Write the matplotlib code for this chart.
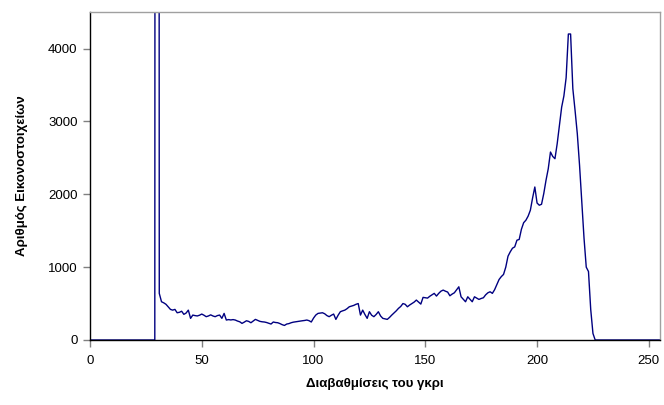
import matplotlib
matplotlib.use("Agg")
import matplotlib.pyplot as plt

plt.rcParams['font.family'] = ['Liberation Sans', 'DejaVu Sans']

grey_levels = list(range(256))

counts_0_29 = [0] * 30
counts_spike = [80000]
counts_31_100 = [640, 525, 510, 490, 456, 420, 410, 420, 374, 380,
                 395, 352, 370, 410, 297, 342, 335, 330, 340, 356,
                 340, 320, 330, 345, 330, 320, 335, 342, 297, 365,
                 274, 280, 275, 280, 274, 260, 250, 228, 245, 264,
                 255, 237, 260, 283, 270, 256, 250, 247, 240, 230,
                 219, 247, 240, 237, 225, 210, 200, 219, 225, 237,
                 245, 250, 256, 260, 264, 268, 274, 265, 247, 300]
counts_101_170 = [342, 365, 370, 374, 360, 335, 320, 340, 356, 283,
                  340, 388, 400, 410, 430, 456, 465, 475, 490, 500,
                  342, 410, 350, 297, 388, 340, 320, 350, 388, 330,
                  297, 290, 283, 310, 342, 370, 400, 434, 460, 500,
                  490, 456, 480, 500, 520, 548, 520, 493, 585, 580,
                  575, 600, 620, 640, 603, 640, 670, 685, 670, 658,
                  607, 630, 648, 690, 730, 593, 560, 525, 593, 560]
counts_171_226 = [525, 593, 575, 557, 570, 580, 620, 648, 662, 640,
                  690, 760, 830, 870, 900, 1000, 1150, 1210, 1260, 1278,
                  1370, 1380, 1520, 1610, 1644, 1700, 1781, 1950, 2100, 1880,
                  1850, 1863, 2010, 2192, 2350, 2580, 2520, 2488, 2694, 2950,
                  3196, 3350, 3600, 4200, 4200, 3450, 3150, 2831, 2400, 1900,
                  1400, 1000, 940, 420, 90, 0]
counts_227_255 = [0] * 29

counts = counts_0_29 + counts_spike + counts_31_100 + counts_101_170 + counts_171_226 + counts_227_255

x_ticks = [0, 50, 100, 150, 200, 250]
y_ticks = [0, 1000, 2000, 3000, 4000]

fig = plt.figure(figsize=(6.64, 4.05), dpi=100)
ax = fig.add_axes([0.1355, 0.1605, 0.8585, 0.8095])

ax.plot(grey_levels, counts, color='#000080', linewidth=1.0)

ax.set_xlim(0, 255)
ax.set_ylim(0, 4500)
ax.set_xticks(x_ticks)
ax.set_yticks(y_ticks)
ax.tick_params(axis='both', direction='out', length=5, width=1, color='#808080',
               labelsize=9.5, labelcolor='black')
ax.tick_params(axis='x', pad=6)
ax.tick_params(axis='y', pad=4)

for s in ['left', 'bottom']:
    ax.spines[s].set_color('black')
    ax.spines[s].set_linewidth(1.0)
for s in ['top', 'right']:
    ax.spines[s].set_color('#a0a0a0')
    ax.spines[s].set_linewidth(1.0)

ax.set_xlabel('Διαβαθμίσεις του γκρι', fontsize=9.5, fontweight='bold', labelpad=8)
ax.set_ylabel('Αριθμός Εικονοστοιχείων', fontsize=9.5, fontweight='bold', labelpad=14)

fig.savefig('out.png', dpi=100)
